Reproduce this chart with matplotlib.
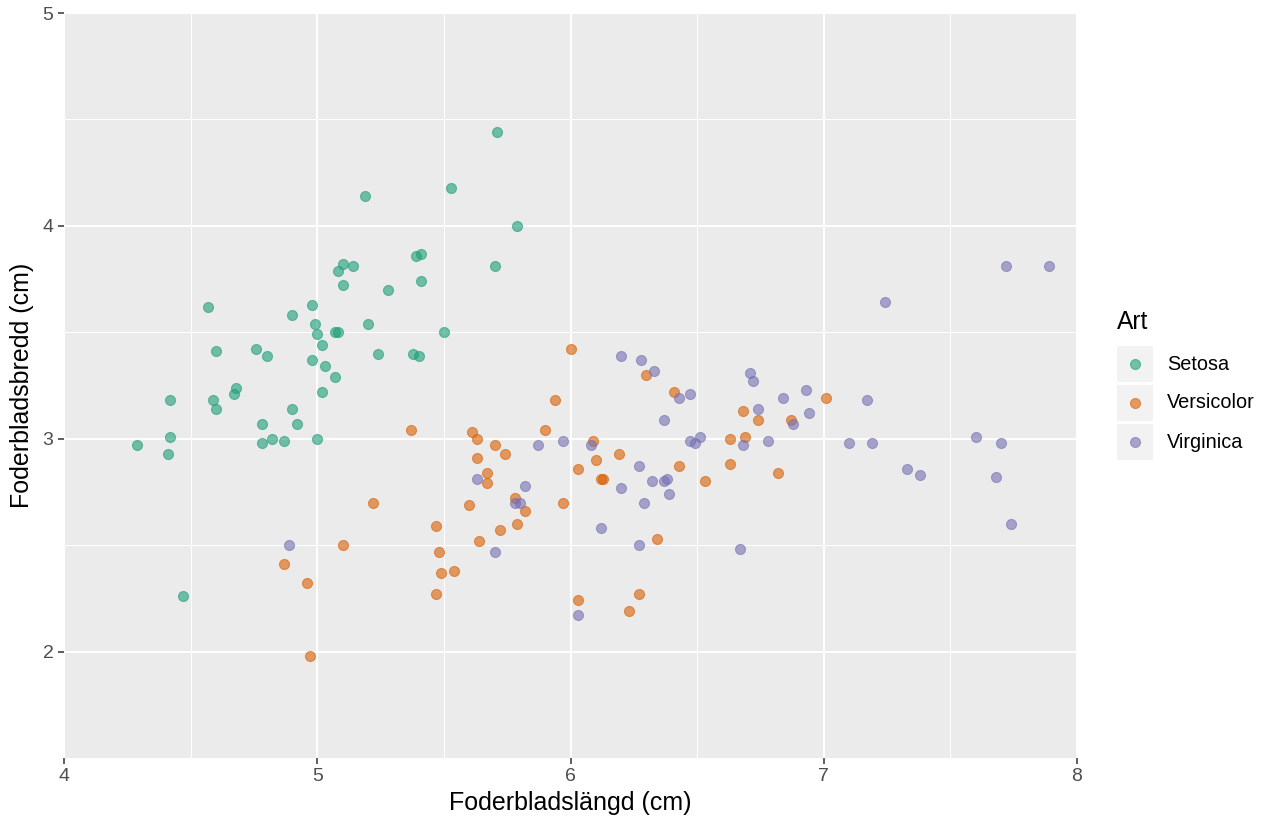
#!/usr/bin/python3
"""
Spridningsdiagram: foderbladslängd mot foderbladsbredd för tre irisarter.
Sparar figuren som out.png.
"""
import matplotlib
matplotlib.use("Agg")
import matplotlib.pyplot as plt
from matplotlib.patches import Rectangle
from matplotlib.lines import Line2D

# --- Data (med jitter) ---
setosa_x = [4.29, 4.41, 4.42, 4.42, 4.47, 4.57, 4.60, 4.59, 4.60, 4.68,
            4.67, 4.76, 4.80, 4.78, 4.78, 4.82, 4.87, 4.90, 4.90, 4.92,
            4.98, 4.99, 5.00, 5.02, 4.98, 5.03, 5.07, 5.02, 5.00, 5.07,
            5.08, 5.08, 5.10, 5.14, 5.10, 5.20, 5.24, 5.28, 5.39, 5.41,
            5.41, 5.38, 5.40, 5.50, 5.53, 5.71, 5.79, 5.70, 5.19]
setosa_y = [2.97, 2.93, 3.01, 3.18, 2.26, 3.62, 3.41, 3.18, 3.14, 3.24,
            3.21, 3.42, 3.39, 3.07, 2.98, 3.00, 2.99, 3.14, 3.58, 3.07,
            3.63, 3.54, 3.49, 3.44, 3.37, 3.34, 3.29, 3.22, 3.00, 3.50,
            3.50, 3.79, 3.82, 3.81, 3.72, 3.54, 3.40, 3.70, 3.86, 3.87,
            3.74, 3.40, 3.39, 3.50, 4.18, 4.44, 4.00, 3.81, 4.14]

versicolor_x = [5.37, 5.22, 5.10, 4.87, 4.96, 4.97, 5.47, 5.48, 5.49, 5.54,
                5.47, 5.61, 5.63, 5.70, 5.74, 5.63, 5.67, 5.67, 5.60, 5.78,
                5.82, 5.79, 5.72, 5.64, 5.90, 5.94, 6.00, 5.97, 6.03, 6.09,
                6.10, 6.12, 6.13, 6.19, 6.30, 6.41, 6.43, 6.34, 6.27, 6.23,
                6.03, 6.68, 6.74, 6.87, 7.01, 6.63, 6.69, 6.63, 6.82, 6.53]
versicolor_y = [3.04, 2.70, 2.50, 2.41, 2.32, 1.98, 2.59, 2.47, 2.37, 2.38,
                2.27, 3.03, 3.00, 2.97, 2.93, 2.91, 2.84, 2.79, 2.69, 2.72,
                2.66, 2.60, 2.57, 2.52, 3.04, 3.18, 3.42, 2.70, 2.86, 2.99,
                2.90, 2.81, 2.81, 2.93, 3.30, 3.22, 2.87, 2.53, 2.27, 2.19,
                2.24, 3.13, 3.09, 3.09, 3.19, 3.00, 3.01, 2.88, 2.84, 2.80]

virginica_x = [4.89, 5.63, 5.82, 5.78, 5.80, 5.70, 5.87, 5.97, 6.08, 6.20,
               6.28, 6.33, 6.47, 6.43, 6.37, 6.47, 6.49, 6.51, 6.27, 6.32,
               6.37, 6.38, 6.20, 6.39, 6.29, 6.12, 6.27, 6.03, 6.71, 6.72,
               6.84, 6.93, 6.74, 6.94, 6.88, 6.68, 6.78, 7.10, 7.19, 7.17,
               6.67, 7.72, 7.89, 7.24, 7.33, 7.38, 7.60, 7.70, 7.68, 7.74]
virginica_y = [2.50, 2.81, 2.78, 2.70, 2.70, 2.47, 2.97, 2.99, 2.97, 3.39,
               3.37, 3.32, 3.21, 3.19, 3.09, 2.99, 2.98, 3.01, 2.87, 2.80,
               2.80, 2.81, 2.77, 2.74, 2.70, 2.58, 2.50, 2.17, 3.31, 3.27,
               3.19, 3.23, 3.14, 3.12, 3.07, 2.97, 2.99, 2.98, 2.98, 3.18,
               2.48, 3.81, 3.81, 3.64, 2.86, 2.83, 3.01, 2.98, 2.82, 2.60]

species = ["Setosa", "Versicolor", "Virginica"]
colors = ["#1B9E77", "#D95F02", "#7570B3"]

W, H = 1280, 832


def fx(px):
    return px / W


def fy(py):
    return 1 - py / H


def create_plot():
    plt.rcParams["font.family"] = ["Liberation Sans", "DejaVu Sans"]

    fig = plt.figure(figsize=(W / 100, H / 100), dpi=100)
    ax = fig.add_axes([fx(64), fy(758), fx(1077) - fx(64), fy(13) - fy(758)])
    ax.set_facecolor("#EBEBEB")

    # --- Grid like ggplot2 ---
    ax.set_xlim(4, 8)
    ax.set_ylim(1.5, 5)
    ax.set_xticks([4, 5, 6, 7, 8])
    ax.set_yticks([2, 3, 4, 5])
    ax.set_xticks([4.5, 5.5, 6.5, 7.5], minor=True)
    ax.set_yticks([2.5, 3.5, 4.5], minor=True)
    ax.grid(which="major", color="white", linewidth=1.4)
    ax.grid(which="minor", color="white", linewidth=0.7)
    ax.set_axisbelow(True)
    for s in ax.spines.values():
        s.set_visible(False)
    ax.tick_params(which="major", length=4.5, width=1.1, color="#333333",
                   labelsize=14, labelcolor="#4D4D4D", pad=3)
    ax.tick_params(which="minor", length=0)

    # --- Points ---
    all_x = [setosa_x, versicolor_x, virginica_x]
    all_y = [setosa_y, versicolor_y, virginica_y]
    for xs, ys, c in zip(all_x, all_y, colors):
        ax.scatter(xs, ys, s=52, color=c, alpha=0.6, edgecolors=c,
                   linewidths=0.8, zorder=3)

    ax.set_xlabel("Foderbladslängd (cm)", fontsize=18, labelpad=4)
    ax.set_ylabel("Foderbladsbredd (cm)", fontsize=18, labelpad=6)

    # --- Legend (drawn by hand to get the grey keys) ---
    fig.text(fx(1117), fy(322), "Art", fontsize=17.7, va="center", ha="left")
    for i, (name, c) in enumerate(zip(species, colors)):
        top = 346 + i * 39
        fig.patches.append(Rectangle((fx(1117), fy(top + 36)), fx(36), 36 / H,
                                     transform=fig.transFigure,
                                     facecolor="#F2F2F2", edgecolor="none"))
        fig.add_artist(Line2D([fx(1135)], [fy(top + 18)], marker="o",
                              markersize=7.2, color=c, alpha=0.6,
                              markeredgecolor=c, markeredgewidth=0.8,
                              linestyle="none", transform=fig.transFigure))
        fig.text(fx(1167), fy(top + 18), name, fontsize=14.3,
                 va="center", ha="left")

    fig.savefig("out.png", dpi=100)
    plt.close(fig)


if __name__ == "__main__":
    create_plot()
